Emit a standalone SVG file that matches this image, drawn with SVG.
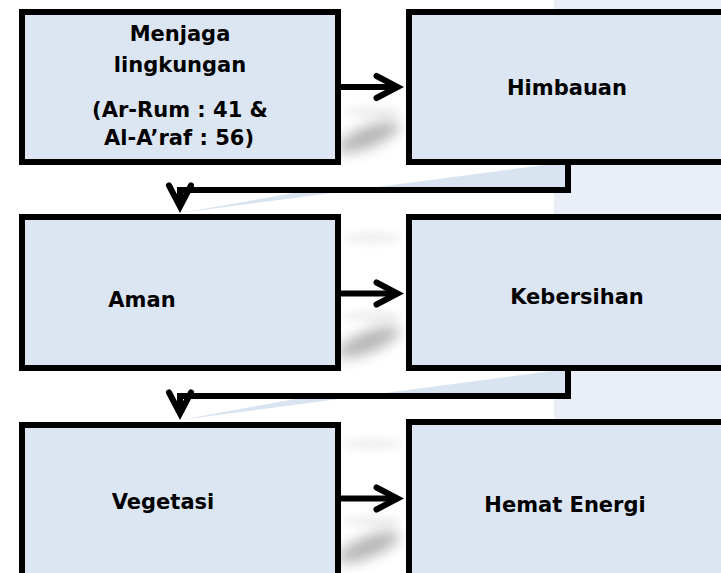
<svg xmlns="http://www.w3.org/2000/svg" width="721" height="573" viewBox="0 0 721 573">
<style>
.box{fill:#DCE6F2;stroke:#000;stroke-width:6}
.lbl{font-family:"DejaVu Sans","Liberation Sans",sans-serif;font-weight:bold;font-size:21px;fill:#000;text-anchor:middle}
.con{fill:none;stroke:#000;stroke-width:6;stroke-linejoin:miter}
.wedge{fill:#D9E4F1}
.sh{fill:#000;filter:url(#blur)}
.shl{fill:#000;filter:url(#blur2)}
</style>
<defs>
<marker id="ah" markerUnits="userSpaceOnUse" viewBox="-30 -16 40 32" refX="0" refY="0" markerWidth="40" markerHeight="32" orient="auto" overflow="visible">
<path d="M-21,-11 L0,0 L-21,11" fill="none" stroke="#000" stroke-width="6" stroke-linecap="round" stroke-linejoin="miter"/>
</marker>
<filter id="blur" x="-60%" y="-150%" width="220%" height="400%"><feGaussianBlur stdDeviation="7"/></filter>
<filter id="blur2" x="-60%" y="-200%" width="220%" height="500%"><feGaussianBlur stdDeviation="4"/></filter>
</defs>
<rect x="0" y="0" width="721" height="573" fill="#FFFFFF"/>
<rect x="554" y="0" width="167" height="573" fill="#EAEFF7"/>
<g id="shadows">
<ellipse class="shl" cx="372" cy="112" rx="30" ry="5" opacity="0.07"/>
<ellipse class="sh" cx="368" cy="137" rx="34" ry="10" opacity="0.3" transform="rotate(-22 368 137)"/>
<ellipse class="shl" cx="372" cy="238" rx="30" ry="6" opacity="0.06"/>
<ellipse class="shl" cx="372" cy="316" rx="30" ry="5" opacity="0.07"/>
<ellipse class="sh" cx="368" cy="342" rx="34" ry="10" opacity="0.3" transform="rotate(-22 368 342)"/>
<ellipse class="shl" cx="372" cy="444" rx="30" ry="6" opacity="0.06"/>
<ellipse class="shl" cx="372" cy="521" rx="30" ry="5" opacity="0.07"/>
<ellipse class="sh" cx="368" cy="547" rx="34" ry="10" opacity="0.3" transform="rotate(-22 368 547)"/>
</g>
<g id="wedges">
<polygon class="wedge" points="180,213 566,162 566,190 300,192"/>
<polygon class="wedge" points="180,420 566,369 566,396 300,398"/>
</g>
<g id="n1">
<rect class="box" x="22" y="12" width="316" height="150"/>
<text class="lbl" x="180" y="41">Menjaga</text>
<text class="lbl" x="180" y="72">lingkungan</text>
<text class="lbl" x="180" y="117">(Ar-Rum : 41 &amp;</text>
<text class="lbl" x="179" y="145">Al-A’raf : 56)</text>
</g>
<g id="n2">
<rect class="box" x="409" y="12" width="330" height="150"/>
<text class="lbl" x="567" y="95">Himbauan</text>
</g>
<g id="n3">
<rect class="box" x="22" y="217" width="316" height="151"/>
<text class="lbl" x="142" y="307">Aman</text>
</g>
<g id="n4">
<rect class="box" x="409" y="217" width="330" height="151"/>
<text class="lbl" x="577" y="304">Kebersihan</text>
</g>
<g id="n5">
<rect class="box" x="22" y="425" width="316" height="170"/>
<text class="lbl" x="163" y="509">Vegetasi</text>
</g>
<g id="n6">
<rect class="box" x="409" y="422" width="330" height="170"/>
<text class="lbl" x="565" y="512">Hemat Energi</text>
</g>
<g id="connectors">
<path class="con" d="M341,87 L397.5,87" marker-end="url(#ah)"/>
<path class="con" d="M341,293.5 L397.5,293.5" marker-end="url(#ah)"/>
<path class="con" d="M341,498.5 L397.5,498.5" marker-end="url(#ah)"/>
<path class="con" d="M568,165 L568,190 L180,190 L180,206.5" marker-end="url(#ah)"/>
<path class="con" d="M568,371 L568,396 L180,396 L180,413.5" marker-end="url(#ah)"/>
</g>
</svg>
